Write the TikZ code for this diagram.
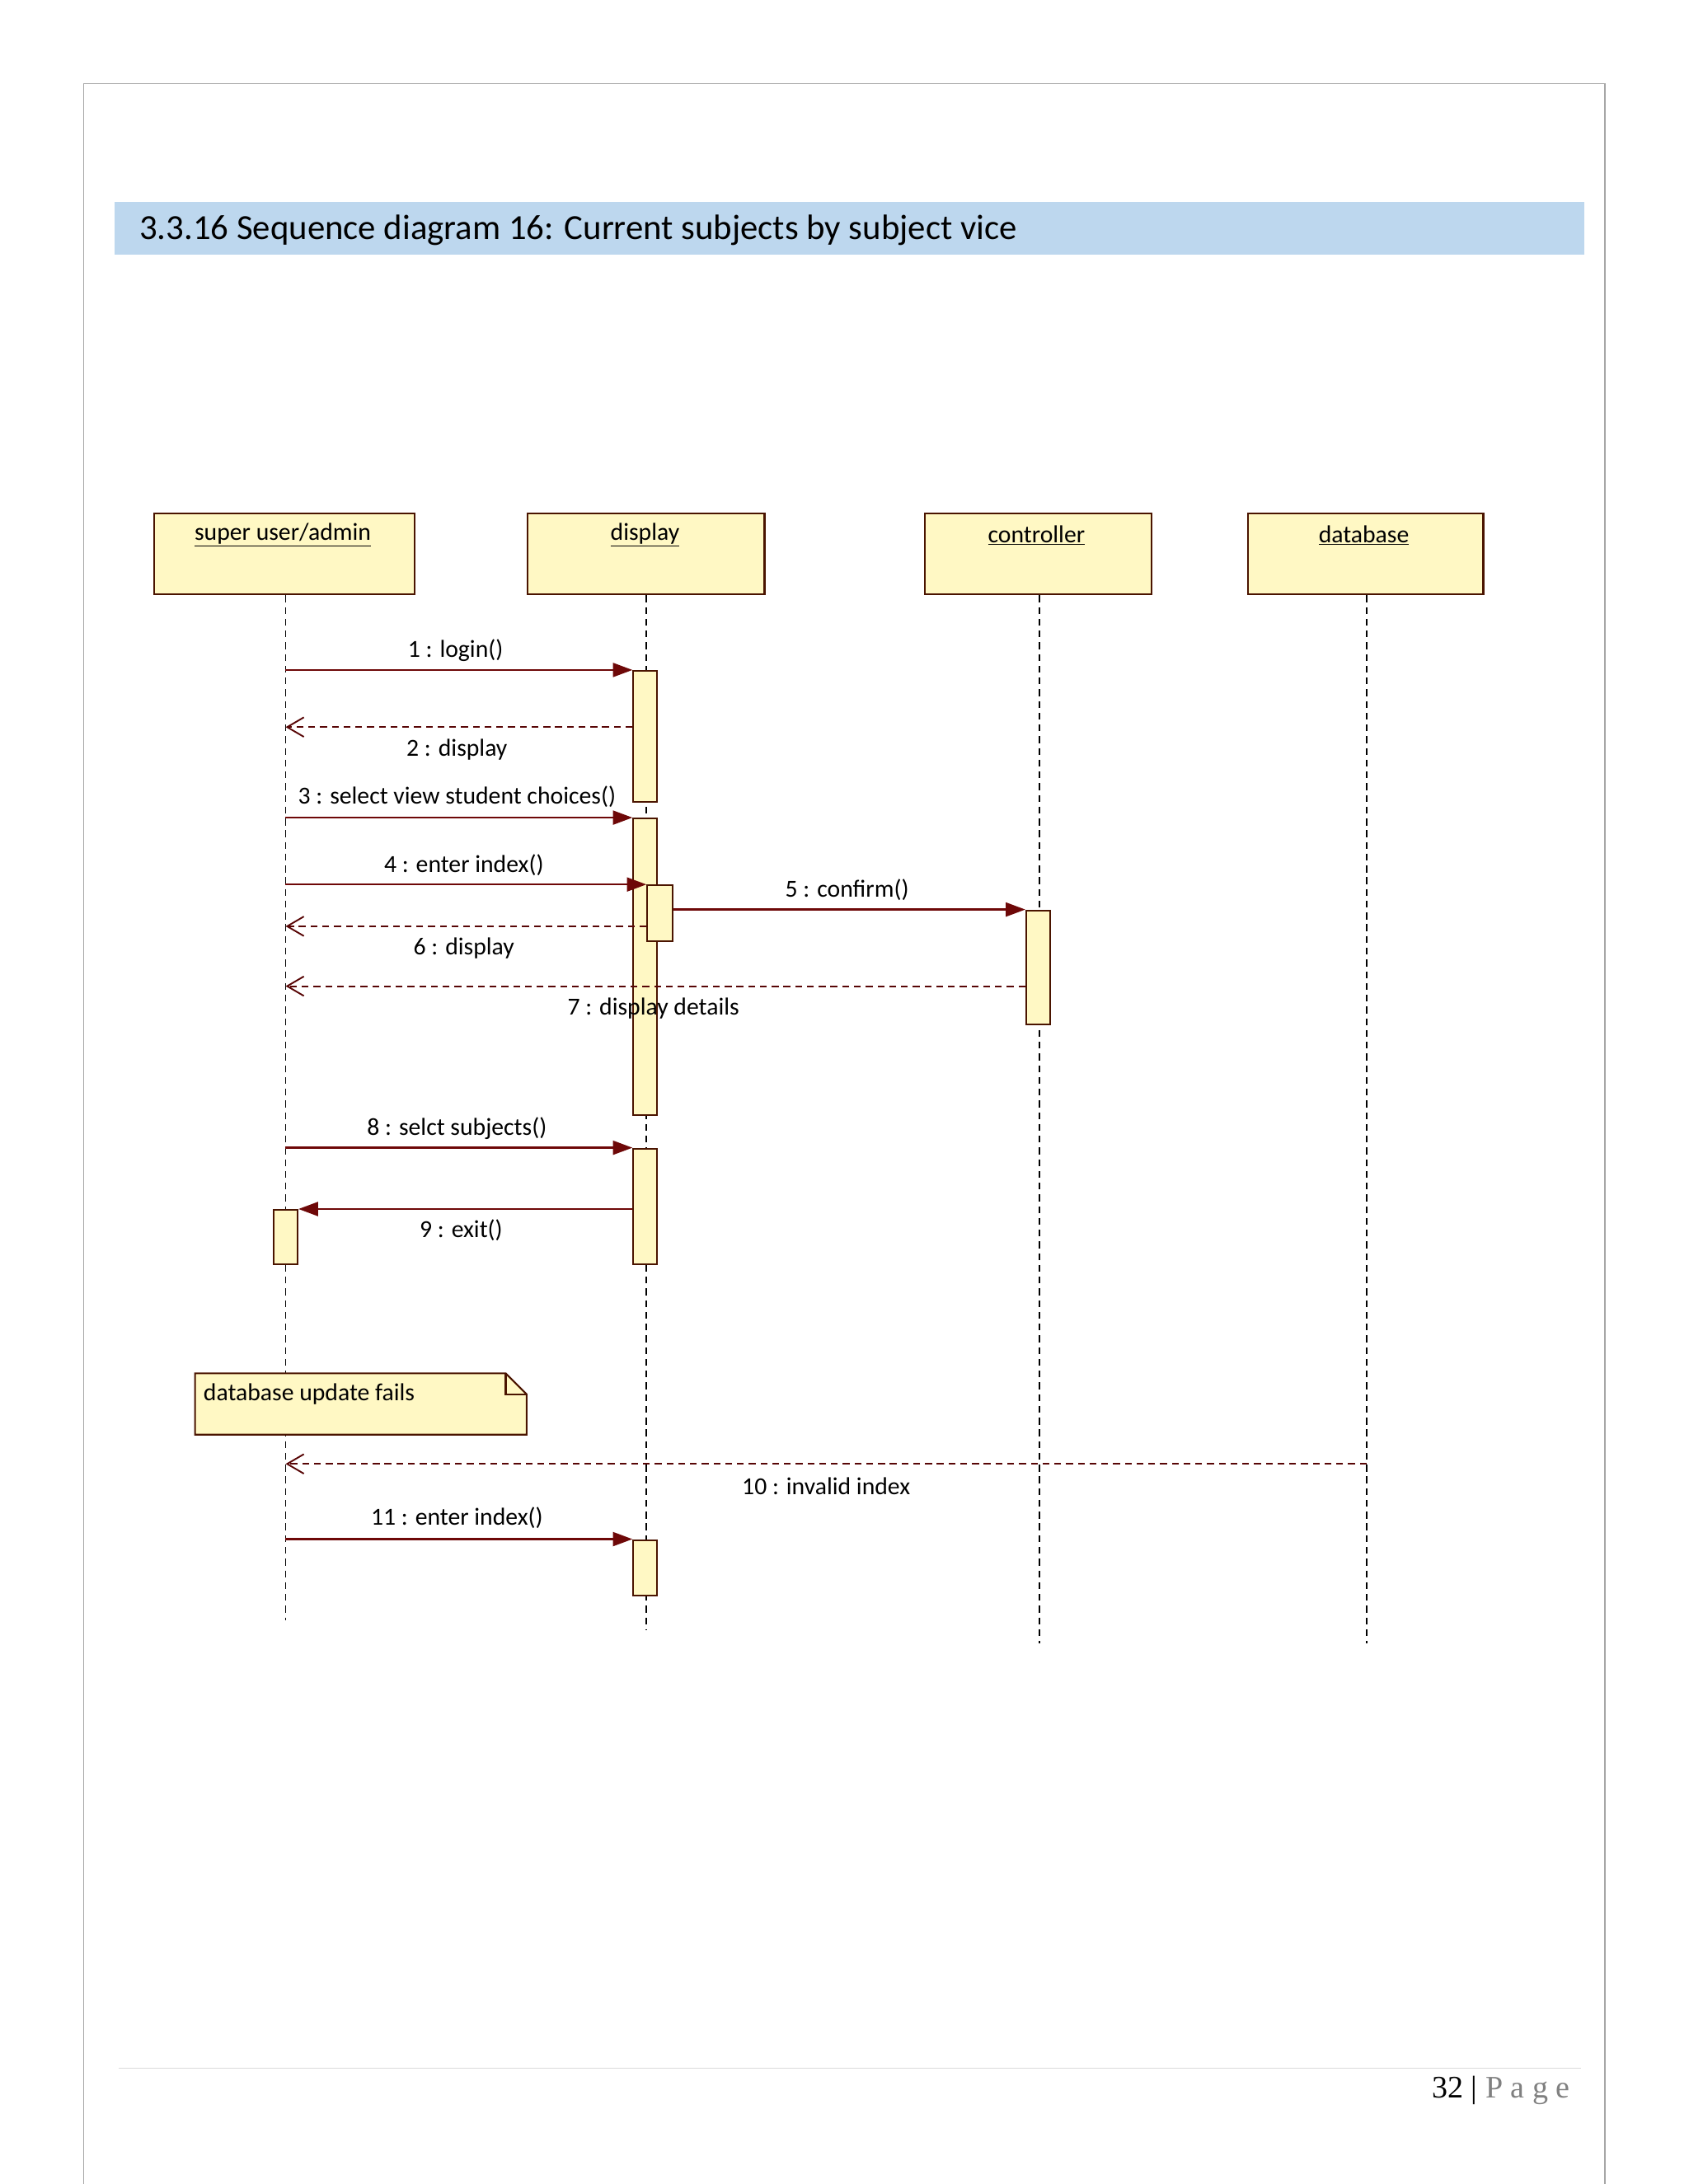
\documentclass[tikz,border=0pt]{standalone}
\usepackage{fontspec}
\setmainfont{Carlito}
\newfontfamily\lbl{Carlito}
\newfontfamily\serifpg{Liberation Serif}
\usetikzlibrary{arrows.meta}
\definecolor{msg}{HTML}{6E0808}
\definecolor{boxline}{HTML}{4A1400}
\definecolor{boxfill}{HTML}{FFF8C4}
\definecolor{band}{HTML}{BDD7EE}
\tikzset{
 x=0.05cm,y=-0.05cm,
 obj/.style={draw=boxline,fill=boxfill,line width=2pt},
 act/.style={draw=boxline,fill=boxfill,line width=1.8pt},
 life/.style={draw=black,line width=1.6pt,dash pattern=on 7pt off 5pt},
 call/.style={draw=msg,line width=2pt,-{Triangle[length=0.7cm,width=0.5cm]}},
 ret/.style={draw=msg!80!black,line width=1.6pt,dash pattern=on 7pt off 5pt,-{Straight Barb[length=0.6cm,width=0.7cm]}},
 lab/.style={font=\lbl\fontsize{25}{29}\selectfont,inner sep=0pt},
 objlab/.style={font=\lbl\fontsize{25}{29}\selectfont,inner sep=0pt},
}
\begin{document}
\begin{tikzpicture}
\useasboundingbox (0,0) rectangle (1212,1568);
\fill[white] (0,0) rectangle (1212,1568);
\draw[gray!70,line width=1.4pt] (60,1570) -- (60,60) -- (1152,60) -- (1152,1570);
\fill[band] (82,145) rectangle (1137,183);
\node[anchor=west,inner sep=0pt,font=\fontsize{36}{40}\selectfont] (title) at (100,165) {3.3.16 Sequence diagram 16: Current subjects by subject vice};
% objects
\node[obj,minimum width=187*0.05cm,minimum height=58*0.05cm,anchor=north west] (su) at (110,368) {};
\node[obj,minimum width=170*0.05cm,minimum height=58*0.05cm,anchor=north west] (di) at (378,368) {};
\node[obj,minimum width=163*0.05cm,minimum height=58*0.05cm,anchor=north west] (co) at (663,368) {};
\node[obj,minimum width=169*0.05cm,minimum height=58*0.05cm,anchor=north west] (db) at (895,368) {};
\node[objlab] (sut) at (203,384) {\underline{super user/admin}};
\node[objlab] (dit) at (463,384) {\underline{display}};
\node[objlab] (cot) at (744,384) {\underline{controller}};
\node[objlab] (dbt) at (979,384) {\underline{database}};
% lifelines
\coordinate (suE) at (205,1163);
\coordinate (diE) at (464,1170);
\coordinate (coE) at (746,1180);
\coordinate (dbE) at (981,1180);
\draw[life] (su.south -| suE) -- (suE);
\draw[life] (di.south -| diE) -- (diE);
\draw[life] (co.south -| coE) -- (coE);
\draw[life] (db.south -| dbE) -- (dbE);
% activations
\node[act,minimum width=17*0.05cm,minimum height=94*0.05cm,anchor=north west,inner sep=0pt] (a1) at (454,481) {};
\node[act,minimum width=17*0.05cm,minimum height=213*0.05cm,anchor=north west,inner sep=0pt] (a2) at (454,587) {};
\node[act,minimum width=17*0.05cm,minimum height=83*0.05cm,anchor=north west,inner sep=0pt] (a3) at (454,824) {};
\node[act,minimum width=17*0.05cm,minimum height=40*0.05cm,anchor=north west,inner sep=0pt] (a4) at (454,1105) {};
\node[act,minimum width=18*0.05cm,minimum height=40*0.05cm,anchor=north west,inner sep=0pt] (n1) at (464,635) {};
\node[act,minimum width=17*0.05cm,minimum height=82*0.05cm,anchor=north west,inner sep=0pt] (c1) at (736,653) {};
\node[act,minimum width=17*0.05cm,minimum height=39*0.05cm,anchor=north west,inner sep=0pt] (s1) at (196,868) {};
% message endpoints on the user lifeline
\coordinate (u1) at (205,481);
\coordinate (u2) at (205,522);
\coordinate (u3) at (205,587);
\coordinate (u4) at (205,635);
\coordinate (u6) at (205,665);
\coordinate (u7) at (205,708);
\coordinate (u8) at (205,824);
\coordinate (u10) at (205,1051);
\coordinate (u11) at (205,1105);
\coordinate (d10) at (981,1051);
% messages
\draw[call] (u1) -- (a1.north west);
\node[lab] (l1) at (327,467) {1 : login()};
\draw[ret] (a1.west |- u2) -- (u2);
\node[lab] (l2) at (328,538) {2 : display};
\draw[call] (u3) -- (a2.north west);
\node[lab] (l3) at (328,572) {3 : select view student choices()};
\draw[call] (u4) -- (n1.north west);
\node[lab] (l4) at (333,621) {4 : enter index()};
\draw[call] (n1.east |- c1.north) -- (c1.north west);
\node[lab] (l5) at (608,639) {5 : confirm()};
\draw[ret] (n1.west |- u6) -- (u6);
\node[lab] (l6) at (333,681) {6 : display};
\draw[ret] (c1.west |- u7) -- (u7);
\node[lab] (l7) at (469,724) {7 : display details};
\draw[call] (u8) -- (a3.north west);
\node[lab] (l8) at (328,810) {8 : selct subjects()};
\draw[call] (a3.west |- s1.north) -- (s1.north east);
\node[lab] (l9) at (331,883) {9 : exit()};
\draw[ret] (d10) -- (u10);
\node[lab] (l10) at (593,1067) {10 : invalid index};
\draw[call] (u11) -- (a4.north west);
\node[lab] (l11) at (328,1090) {11 : enter index()};
% note
\draw[act] (140,986) -- (363,986) -- (378,1001) -- (378,1030) -- (140,1030) -- cycle;
\draw[boxline,line width=1.8pt] (363,986) -- (363,1001) -- (378,1001);
\node[lab,anchor=west] (note) at (146,1001) {database update fails};
% footer
\draw[gray!30,line width=1.2pt] (85,1485) -- (1135,1485);
\node[anchor=east,inner sep=0pt,font=\serifpg\fontsize{32}{36}\selectfont] (pg) at (1127,1501) {32 | \textcolor{gray}{P a g e}};
\end{tikzpicture}
\end{document}
